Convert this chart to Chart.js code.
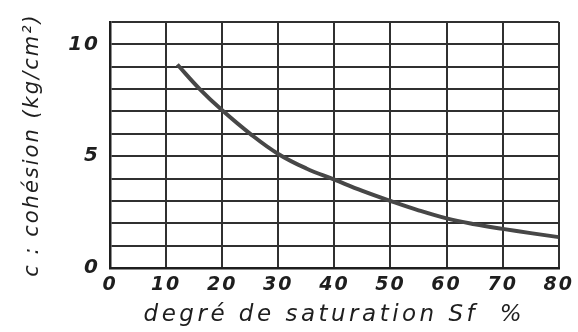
<!DOCTYPE html>
<html>
<head>
<meta charset="utf-8">
<script src="https://cdn.jsdelivr.net/npm/chart.js@4/dist/chart.umd.min.js"></script>
<style>
  html, body { margin: 0; padding: 0; background: #ffffff; }
  #wrap { width: 578px; height: 332px; }
</style>
</head>
<body>
<div id="wrap"><canvas id="c" width="578" height="332"></canvas></div>
<script>
// Degree of saturation (%) and cohesion (kg/cm²)
const saturation = [12, 16, 20, 25, 30, 35, 40, 45, 50, 55, 60, 65, 70, 75, 80];
const cohesion   = [9.1, 8.0, 7.05, 6.0, 5.1, 4.45, 3.95, 3.45, 3.0, 2.58, 2.22, 1.96, 1.75, 1.56, 1.38];

const xTickLabels = ['0', '10', '20', '30', '40', '50', '60', '70', '80'];
const yTickLabels = { 0: '0', 5: '5', 10: '10' };

const xTitle = 'degré de saturation Sf  %';
const yTitle = 'c : cohésion (kg/cm²)';

const ink = '#1e1e1e';
const hand = 'DejaVu Sans';

// hand-lettered look: spaced characters, the x title more widely
const spacing = {
  id: 'spacing',
  beforeDraw(chart) { chart.ctx.letterSpacing = '2px'; },
  afterDraw(chart) { chart.ctx.letterSpacing = '0px'; }
};
function widenTitle(scale, px) {
  if (scale._widened) return;
  const base = Object.getPrototypeOf(scale).drawTitle;
  scale.drawTitle = function () {
    const ctx = this.ctx;
    const prev = ctx.letterSpacing;
    ctx.letterSpacing = px;
    base.call(this);
    ctx.letterSpacing = prev;
  };
  scale._widened = true;
}

new Chart(document.getElementById('c'), {
  type: 'line',
  data: {
    datasets: [{
      data: saturation.map((s, i) => ({ x: s, y: cohesion[i] })),
      borderColor: '#474747',
      borderWidth: 4,
      pointRadius: 0,
      tension: 0.4,
      fill: false
    }]
  },
  options: {
    responsive: false,
    animation: false,
    layout: { padding: { left: 0, right: 16, top: 18, bottom: 0 } },
    plugins: { legend: { display: false }, tooltip: { enabled: false } },
    scales: {
      x: {
        type: 'linear',
        min: 0, max: 80,
        afterFit(scale) { scale.height = 64; widenTitle(scale, '3.5px'); },
        grid: { color: '#303030', lineWidth: 2, drawTicks: false },
        border: { color: ink, width: 2.5 },
        ticks: {
          stepSize: 10,
          autoSkip: false,
          padding: 6,
          color: ink,
          font: { family: hand, style: 'italic', weight: 'bold', size: 19 },
          callback: (v) => xTickLabels[v / 10] ?? ''
        },
        title: {
          display: true,
          text: xTitle,
          color: ink,
          font: { family: hand, style: 'italic', size: 23 },
          padding: { top: 0, bottom: 3 }
        }
      },
      y: {
        min: 0, max: 11,
        afterFit(scale) { scale.width = 110; },
        grid: { color: '#303030', lineWidth: 2, drawTicks: false },
        border: { color: ink, width: 2.5 },
        ticks: {
          stepSize: 1,
          autoSkip: false,
          padding: 10,
          color: ink,
          font: { family: hand, style: 'italic', weight: 'bold', size: 20 },
          callback: (v) => yTickLabels[v] ?? ''
        },
        title: {
          display: true,
          text: yTitle,
          color: ink,
          font: { family: hand, style: 'italic', size: 21 },
          padding: { top: 20, bottom: 0 }
        }
      }
    }
  },
  plugins: [spacing]
});
</script>
</body>
</html>
